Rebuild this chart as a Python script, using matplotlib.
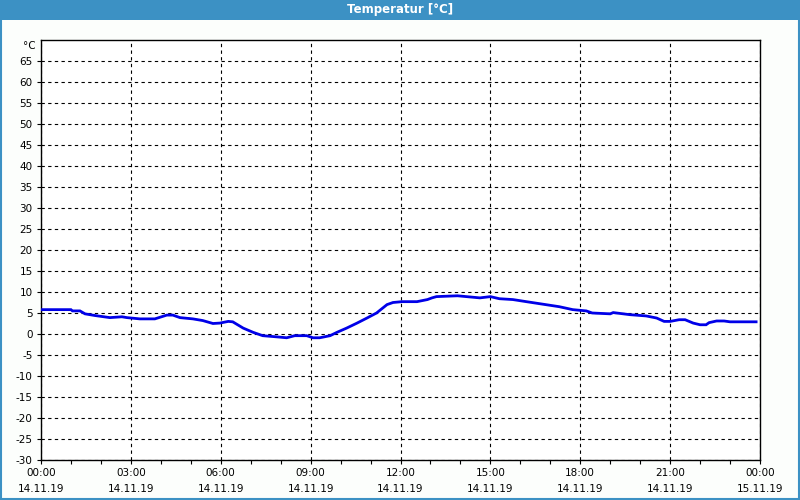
"""Temperature day curve, 14.11.19"""

import matplotlib
matplotlib.use("Agg")
import matplotlib.pyplot as plt
from matplotlib.patches import Rectangle
from matplotlib.ticker import MultipleLocator
from matplotlib.transforms import blended_transform_factory

# measurement data (hours since 14.11.19 00:00, degC)
hours = [0, 1.0, 1.05, 1.3, 1.47, 1.8, 2.3, 2.7, 2.87, 3.3,
         3.8, 4.2, 4.4, 4.64, 5.07, 5.4, 5.74, 5.97, 6.25, 6.4,
         6.75, 7.08, 7.4, 7.9, 8.2, 8.47, 8.87, 9.08, 9.3, 9.65,
         9.88, 10.2, 10.55, 10.88, 11.2, 11.55, 11.75, 12.05, 12.55, 12.9,
         13.05, 13.2, 13.9, 14.2, 14.65, 15.0, 15.3, 15.75, 16.2, 16.75,
         17.3, 17.75, 18.2, 18.4, 19.0, 19.1, 19.66, 20.2, 20.55, 20.8,
         21.0, 21.3, 21.5, 21.77, 22.0, 22.2, 22.3, 22.55, 22.8, 23.0,
         23.87]
temps = [5.8, 5.8, 5.5, 5.5, 4.8, 4.4, 3.9, 4.1, 3.9, 3.6,
         3.6, 4.5, 4.5, 3.9, 3.6, 3.2, 2.5, 2.6, 3.0, 2.9,
         1.4, 0.4, -0.4, -0.7, -0.9, -0.4, -0.4, -0.9, -0.9, -0.4,
         0.4, 1.4, 2.6, 3.8, 5.0, 7.0, 7.5, 7.7, 7.7, 8.2,
         8.6, 8.9, 9.1, 8.9, 8.6, 8.9, 8.4, 8.2, 7.7, 7.1,
         6.5, 5.8, 5.5, 5.0, 4.8, 5.1, 4.6, 4.3, 3.8, 3.0,
         3.0, 3.4, 3.4, 2.6, 2.2, 2.2, 2.7, 3.1, 3.1, 2.9,
         2.9]

tick_hours = [0, 3, 6, 9, 12, 15, 18, 21, 24]
tick_times = ["00:00", "03:00", "06:00", "09:00", "12:00", "15:00", "18:00", "21:00", "00:00"]
tick_dates = ["14.11.19"] * 8 + ["15.11.19"]
y_ticks = list(range(-30, 70, 5))

title = "Temperatur [°C]"
bar_color = "#3c91c4"
line_color = "#0000e8"

fig = plt.figure(figsize=(8, 5), dpi=100, facecolor="#fcfefc")

# title bar and window border
fig.patches.append(Rectangle((0, 0.96), 1, 0.04, transform=fig.transFigure,
                             facecolor=bar_color, edgecolor="none", zorder=0))
fig.patches.append(Rectangle((0.001, 0.002), 0.998, 0.996, transform=fig.transFigure,
                             facecolor="none", edgecolor=bar_color, lw=1.5, zorder=1))
fig.text(0.5, 0.98, title, color="white", fontsize=8.5, fontweight="bold",
         ha="center", va="center")

ax = fig.add_axes([0.05125, 0.08, 0.89875, 0.84])
ax.set_facecolor("white")
ax.plot(hours, temps, color=line_color, lw=2.0, solid_joinstyle="miter", zorder=3)

ax.set_xlim(0, 24)
ax.set_ylim(-30, 70)
ax.set_xticks(tick_hours)
ax.set_xticklabels([f"{t}\n{d}" for t, d in zip(tick_times, tick_dates)],
                   fontsize=7.5, linespacing=1.75)
ax.xaxis.set_minor_locator(MultipleLocator(1))
ax.set_yticks(y_ticks)
ax.set_yticklabels([str(v) for v in y_ticks], fontsize=7.5)

ax.tick_params(axis="both", which="both", direction="out", length=3,
               width=0.8, color="black", pad=3)
ax.tick_params(axis="x", which="minor", length=3)

ax.grid(True, which="major", color="black", lw=0.8, linestyle=(0, (3, 3)))
for s in ax.spines.values():
    s.set_color("black")
    s.set_linewidth(1.0)

# unit label in place of the top tick
trans = blended_transform_factory(ax.transAxes, ax.transData)
ax.text(-0.007, 68.5, "°C", transform=trans, fontsize=7.5, ha="right", va="center")

fig.savefig("out.png", dpi=100, facecolor=fig.get_facecolor())
plt.close(fig)
